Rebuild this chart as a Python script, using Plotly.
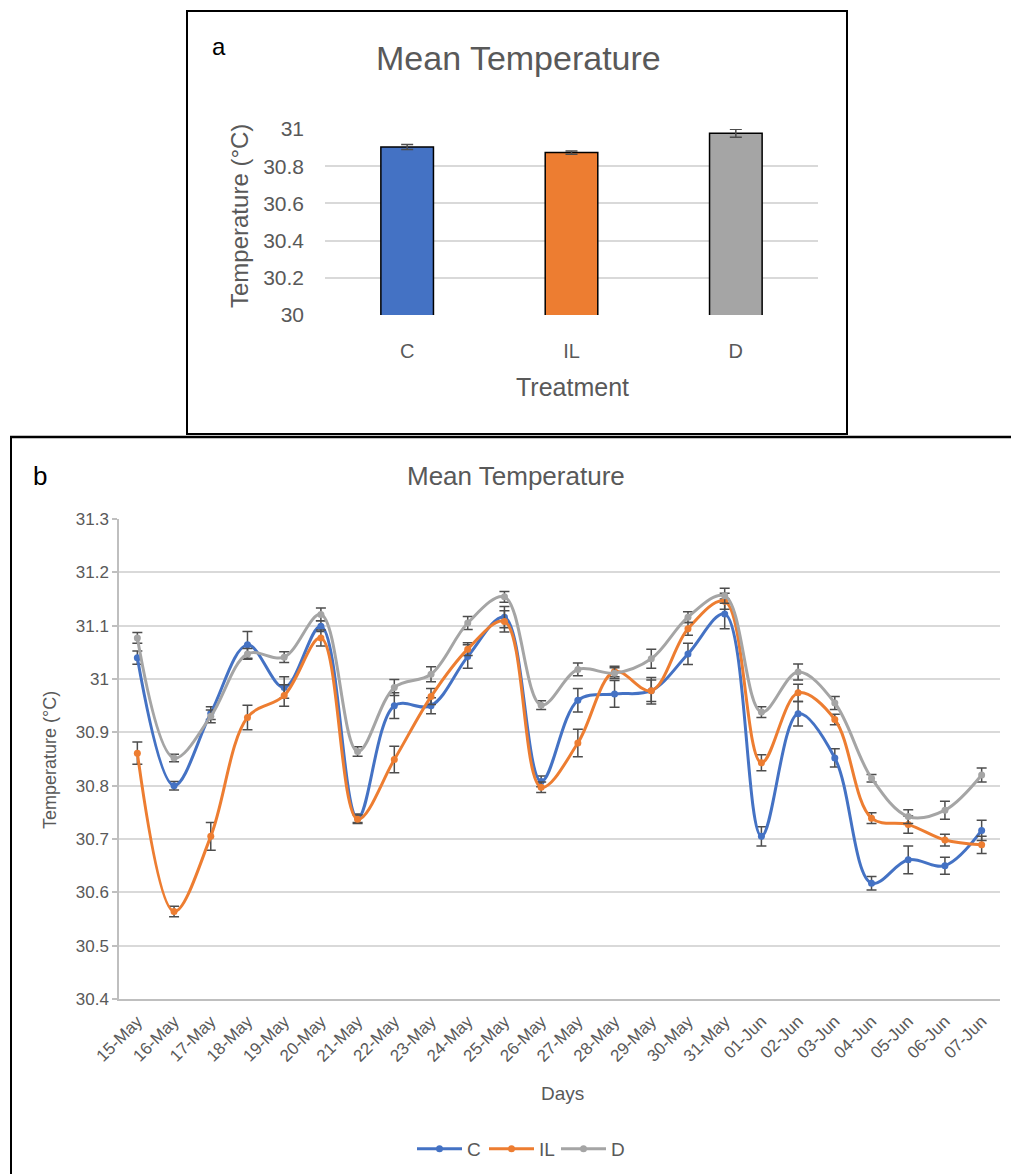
import plotly.graph_objects as go

W, H = 1011, 1174

# ---------------- data ----------------
treatments = ["C", "IL", "D"]
bar_means = [30.903, 30.873, 30.977]
bar_err = [0.0135, 0.009, 0.022]
bar_colors = ["#4472C4", "#ED7D31", "#A5A5A5"]

days = ["15-May", "16-May", "17-May", "18-May", "19-May", "20-May", "21-May", "22-May",
        "23-May", "24-May", "25-May", "26-May", "27-May", "28-May", "29-May", "30-May",
        "31-May", "01-Jun", "02-Jun", "03-Jun", "04-Jun", "05-Jun", "06-Jun", "07-Jun"]

c_vals = [31.040, 30.800, 30.936, 31.064, 30.984, 31.099, 30.739, 30.950,
          30.950, 31.042, 31.116, 30.808, 30.960, 30.972, 30.978, 31.047,
          31.122, 30.705, 30.935, 30.852, 30.617, 30.661, 30.650, 30.716]
il_vals = [30.861, 30.564, 30.705, 30.928, 30.969, 31.077, 30.737, 30.849,
           30.967, 31.056, 31.108, 30.797, 30.880, 31.014, 30.978, 31.094,
           31.146, 30.843, 30.974, 30.924, 30.739, 30.727, 30.698, 30.689]
d_vals = [31.077, 30.852, 30.930, 31.047, 31.041, 31.121, 30.864, 30.984,
          31.009, 31.105, 31.154, 30.951, 31.018, 31.011, 31.038, 31.116,
          31.156, 30.938, 31.013, 30.955, 30.814, 30.742, 30.754, 30.820]

c_err = [0.0125, 0.008, 0.012, 0.025, 0.020, 0.010, 0.008, 0.024,
         0.015, 0.022, 0.020, 0.010, 0.022, 0.025, 0.025, 0.020,
         0.028, 0.018, 0.023, 0.017, 0.0125, 0.026, 0.016, 0.019]
il_err = [0.021, 0.010, 0.026, 0.023, 0.020, 0.015, 0.008, 0.025,
          0.015, 0.012, 0.020, 0.010, 0.026, 0.010, 0.020, 0.012,
          0.015, 0.015, 0.016, 0.010, 0.010, 0.016, 0.011, 0.016]
d_err = [0.010, 0.007, 0.012, 0.010, 0.010, 0.012, 0.009, 0.015,
         0.014, 0.012, 0.010, 0.008, 0.012, 0.010, 0.018, 0.010,
         0.014, 0.010, 0.015, 0.012, 0.007, 0.013, 0.017, 0.013]

top_ticks = [30, 30.2, 30.4, 30.6, 30.8, 31]
top_ticktext = ["30", "30.2", "30.4", "30.6", "30.8", "31"]
bot_ticks = [30.4, 30.5, 30.6, 30.7, 30.8, 30.9, 31.0, 31.1, 31.2, 31.3]
bot_ticktext = ["30.4", "30.5", "30.6", "30.7", "30.8", "30.9", "31", "31.1", "31.2", "31.3"]

series = [("C", c_vals, c_err, "#4472C4"),
          ("IL", il_vals, il_err, "#ED7D31"),
          ("D", d_vals, d_err, "#A5A5A5")]

FONT = "Liberation Sans, Arial, sans-serif"
GRAY_TXT = "#595959"
GRID = "#D9D9D9"
ERR = "#4D4D4D"


def px(x):
    return x / W


def py(y):
    return 1 - y / H


fig = go.Figure()

# ---------------- top bar chart ----------------
fig.add_trace(go.Bar(
    x=treatments, y=bar_means,
    marker=dict(color=bar_colors, line=dict(color="black", width=1.5)),
    error_y=dict(type="data", array=bar_err, color=ERR, thickness=1.5, width=6),
    xaxis="x", yaxis="y", showlegend=False,
))

# ---------------- bottom line chart ----------------
for name, vals, err, col in series:
    fig.add_trace(go.Scatter(
        x=days, y=vals, name=name, mode="lines+markers",
        line=dict(color=col, width=3, shape="spline", smoothing=1.0),
        marker=dict(color=col, size=7),
        error_y=dict(type="data", array=err, color=ERR, thickness=1.5, width=5),
        xaxis="x2", yaxis="y2",
    ))

fig.update_layout(
    template="none",
    width=W, height=H, autosize=False,
    margin=dict(l=0, r=0, t=0, b=0, pad=0, autoexpand=False),
    paper_bgcolor="white", plot_bgcolor="white",
    font=dict(family=FONT, color=GRAY_TXT),
    bargap=0.68,
    xaxis=dict(domain=[px(325), px(818)], anchor="y", showgrid=False, showline=False,
               automargin=False, zeroline=False, range=[-0.5, len(treatments) - 0.5],
               ticks="", tickfont=dict(size=20, color=GRAY_TXT), ticklabelstandoff=22),
    yaxis=dict(domain=[py(315), py(129)], anchor="x", range=[30, 31], automargin=False,
               tickvals=top_ticks, ticktext=top_ticktext,
               showgrid=True, gridcolor=GRID, gridwidth=1.5, zeroline=False,
               showline=False, ticks="", tickfont=dict(size=21, color=GRAY_TXT),
               ticklabelstandoff=20),
    xaxis2=dict(domain=[px(119), px(1000)], anchor="y2", showgrid=False, automargin=False,
                range=[-0.5, len(days) - 0.5],
                showline=True, linecolor="#BFBFBF", linewidth=1.5, zeroline=False,
                ticks="", tickangle=-45, tickfont=dict(size=17, color=GRAY_TXT),
                ticklabelstandoff=4),
    yaxis2=dict(domain=[py(999), py(519)], anchor="x2", range=[30.4, 31.3], automargin=False,
                tickvals=bot_ticks, ticktext=bot_ticktext,
                showgrid=True, gridcolor=GRID, gridwidth=1.5, zeroline=False,
                showline=True, linecolor="#BFBFBF", linewidth=1.5,
                ticks="outside", ticklen=5, tickcolor="#BFBFBF", tickwidth=1.5,
                tickfont=dict(size=17, color=GRAY_TXT)),
    showlegend=True,
    legend=dict(orientation="h", x=px(412), xanchor="left", y=py(1149), yanchor="middle",
                font=dict(size=19, color=GRAY_TXT), bgcolor="rgba(0,0,0,0)", borderwidth=0,
                itemwidth=45, tracegroupgap=0, entrywidth=12, entrywidthmode="pixels"),
)

annotations = [
    dict(text="Mean Temperature", x=px(518), y=py(58), font=dict(size=34, color=GRAY_TXT)),
    dict(text="a", x=px(219), y=py(46), font=dict(size=24, color="black")),
    dict(text="Temperature (°C)", x=px(239), y=py(216), textangle=-90,
         font=dict(size=24, color=GRAY_TXT)),
    dict(text="Treatment", x=px(572), y=py(387), font=dict(size=25, color=GRAY_TXT)),
    dict(text="Mean Temperature", x=px(516), y=py(476), font=dict(size=26, color=GRAY_TXT)),
    dict(text="b", x=px(40), y=py(476), font=dict(size=26, color="black")),
    dict(text="Temperature (°C)", x=px(50), y=py(760), textangle=-90,
         font=dict(size=18, color=GRAY_TXT)),
    dict(text="Days", x=px(562), y=py(1093), font=dict(size=19, color=GRAY_TXT)),
]
for a in annotations:
    a.update(xref="paper", yref="paper", showarrow=False, xanchor="center", yanchor="middle")
fig.update_layout(annotations=annotations)

# panel borders
fig.add_shape(type="rect", xref="paper", yref="paper",
              x0=px(187), y0=py(434), x1=px(847), y1=py(11),
              line=dict(color="black", width=2), fillcolor="rgba(0,0,0,0)", layer="above")
fig.add_shape(type="line", xref="paper", yref="paper",
              x0=px(10), y0=py(437), x1=px(1011), y1=py(437), line=dict(color="black", width=2.5))
fig.add_shape(type="line", xref="paper", yref="paper",
              x0=px(11), y0=py(437), x1=px(11), y1=py(1174), line=dict(color="black", width=2))

fig.write_html("out.html", config={"displayModeBar": False},
               post_script="document.body.style.margin='0';document.body.style.overflow='hidden';")
